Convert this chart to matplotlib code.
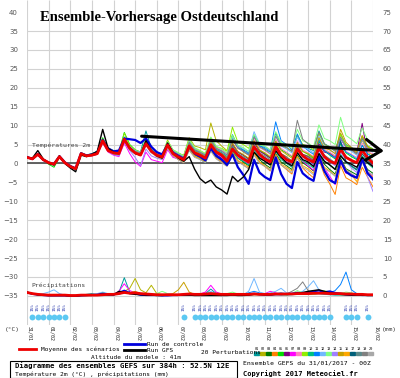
import numpy as np
import matplotlib.pyplot as plt
from matplotlib.lines import Line2D
from matplotlib.patches import Rectangle

W, H = 400, 378

# ---- data -------------------------------------------------------------
lead_hours = np.arange(0, 385, 6)
date_labels = ["31/01", "01/02", "02/02", "03/02", "04/02", "05/02", "06/02", "07/02", "08/02",
               "09/02", "10/02", "11/02", "12/02", "13/02", "14/02", "15/02", "16/02"]
left_ticks = list(range(-35, 45, 5))
right_ticks = list(range(0, 80, 5))
PRECIP_OFFSET = -35  # 0 mm of the right scale sits at -35 on the temperature scale

mean_t = [1.6, 1.2, 2.4, 1.0, 0.2, -0.2, 1.8, 0.2, -0.8, -1.4, 2.6, 2.0, 2.2, 2.6, 6.0, 3.4,
          2.8, 2.6, 6.4, 4.0, 2.8, 2.2, 5.2, 3.2, 2.2, 1.7, 4.9, 2.6, 1.7, 1.0, 4.6, 2.8,
          2.2, 1.4, 4.9, 3.0, 2.2, 0.6, 3.8, 2.2, 1.2, 0.4, 4.4, 2.4, 1.2, 0.4, 4.4, 2.2,
          1.0, 0.4, 3.8, 2.0, 1.0, 0.4, 4.1, 1.8, 0.6, 0.0, 3.8, 1.6, 0.8, 0.2, 3.6, 1.4,
          0.1]
control_t = [1.7, 1.2, 2.5, 1.0, 0.2, -0.2, 1.9, 0.3, -0.7, -1.3, 2.7, 2.1, 2.4, 3.0, 6.2, 4.0,
             3.2, 3.4, 6.6, 6.4, 6.2, 5.4, 6.6, 4.4, 3.0, 2.4, 5.0, 2.8, 2.0, 1.2, 4.4, 2.6,
             1.8, 0.8, 4.0, 2.0, 1.0, -0.4, 2.4, -1.0, -3.0, -5.4, 1.0, -2.4, -3.6, -4.4, 1.6, -2.8,
             -5.4, -6.5, 0.4, -2.6, -3.8, -4.6, 1.8, -2.0, -4.4, -5.2, 0.8, -2.2, -3.2, -3.8, 1.2, -2.6,
             -4.2]
gfs_t = [1.6, 1.4, 3.4, 1.2, 0.0, -0.4, 2.0, 0.0, -1.2, -2.2, 2.2, 1.8, 2.4, 3.2, 9.0, 4.0,
         3.0, 2.6, 6.4, 4.2, 2.6, 2.2, 6.0, 3.4, 2.0, 1.4, 5.4, 2.8, 1.4, 0.6, 1.8, -1.5,
         -4.0, -5.2, -4.4, -6.2, -7.0, -8.1, -3.4, -4.8, -3.6, -1.6, 3.0, 1.4, 0.6, -0.4, 3.4, 1.6,
         0.2, -0.6, 2.8, 1.0, 0.4, -0.8, 2.6, 0.6, -0.4, -1.6, 2.0, 0.4, -0.2, -1.0, 1.6, 0.2,
         -0.8]

pert_01 = [1.8, 1.3, 2.6, 1.1, 0.4, 0.0, 2.0, 0.4, -0.6, -1.2, 2.8, 2.2, 2.4, 2.8, 6.4, 3.6,
           2.8, 2.6, 7.0, 4.4, 3.4, 3.0, 8.6, 4.0, 2.6, 2.0, 5.6, 3.0, 2.2, 1.2, 5.2, 3.4,
           2.8, 2.0, 6.4, 4.0, 3.4, 2.6, 7.6, 4.6, 3.6, 2.8, 7.4, 4.8, 3.8, 3.0, 8.0, 5.0,
           4.2, 3.2, 7.2, 4.8, 4.0, 3.4, 8.6, 5.2, 4.4, 3.6, 7.8, 5.0, 4.2, 3.4, 7.0, 4.6,
           3.8]
pert_02 = [1.5, 1.1, 2.3, 0.9, 0.1, -0.3, 1.7, 0.1, -0.9, -1.5, 2.4, 1.8, 2.0, 2.4, 5.6, 3.2,
           2.4, 2.2, 6.0, 3.8, 2.8, 2.4, 5.8, 3.6, 2.4, 1.8, 6.2, 3.2, 2.6, 2.2, 6.8, 4.6,
           4.2, 3.6, 10.7, 6.0, 4.6, 3.4, 7.2, 4.4, 3.0, 2.2, 6.0, 3.6, 2.4, 1.4, 5.4, 2.6,
           1.8, 0.6, 5.0, 2.4, 2.0, 1.2, 6.4, 3.4, 2.8, 2.0, 8.0, 4.6, 3.6, 2.4, 6.2, 3.0,
           2.2]
pert_03 = [1.7, 1.2, 2.5, 1.0, 0.2, -0.1, 1.9, 0.3, -0.7, -1.3, 2.7, 2.1, 2.3, 2.7, 6.2, 3.6,
           2.8, 2.5, 6.6, 4.2, 3.2, 2.7, 5.6, 3.4, 2.2, 1.6, 4.6, 2.4, 1.4, 0.6, 4.0, 2.2,
           1.6, 0.8, 4.2, 2.4, 1.4, 0.2, 3.2, 1.4, 0.4, -0.6, 3.0, 1.0, -0.2, -1.2, 2.6, 0.4,
           -0.6, -1.6, 2.2, 0.2, -0.8, -2.0, 2.4, -0.2, -1.6, -2.8, 1.4, -1.4, -2.2, -3.0, 1.0, -1.6,
           -2.6]
pert_04 = [1.6, 1.2, 2.4, 1.0, 0.2, -0.2, 1.8, 0.2, -0.8, -1.4, 2.5, 1.9, 2.1, 2.5, 5.6, 3.2,
           2.4, 2.2, 6.2, 3.8, 2.8, 2.4, 5.0, 3.0, 1.8, 1.2, 4.2, 2.0, 1.0, 0.2, 3.6, 1.8,
           1.4, 0.4, 3.8, 1.6, 0.6, -0.6, 2.6, 0.6, -0.4, -1.4, 2.8, 0.4, -0.8, -2.0, 2.4, -0.4,
           -1.6, -2.8, 1.8, -1.2, -2.6, -3.8, 1.0, -3.0, -5.4, -8.2, -0.6, -3.8, -4.6, -5.6, -1.0, -3.6,
           -6.2]
pert_05 = [1.7, 1.3, 2.5, 0.9, -0.2, -1.0, 1.6, 0.0, -1.0, -1.6, 2.8, 2.2, 2.6, 3.2, 6.8, 4.0,
           3.4, 3.0, 8.2, 5.0, 3.6, 3.0, 6.2, 3.8, 2.8, 2.2, 5.4, 3.2, 2.4, 1.6, 5.6, 3.6,
           3.0, 2.2, 6.0, 3.8, 2.8, 1.8, 5.2, 3.0, 2.2, 1.2, 5.8, 3.4, 2.6, 1.6, 6.0, 3.6,
           2.8, 1.8, 5.6, 3.2, 2.4, 1.4, 5.8, 3.4, 2.2, 1.2, 5.2, 2.8, 1.8, 1.0, 4.8, 2.6,
           1.6]
pert_06 = [1.6, 1.1, 2.3, 0.9, 0.1, -0.3, 1.8, 0.2, -0.8, -1.4, 2.6, 2.0, 2.2, 2.6, 6.0, 3.4,
           2.6, 2.4, 6.2, 4.0, 3.0, 2.6, 5.2, 3.2, 2.0, 1.4, 4.6, 2.6, 1.8, 1.0, 4.8, 3.0,
           2.4, 1.6, 5.4, 3.4, 2.6, 1.4, 5.0, 3.0, 2.2, 1.2, 5.6, 3.2, 2.4, 1.4, 4.8, 2.6,
           1.6, 0.6, 4.4, 2.4, 1.8, 0.8, 5.2, 3.0, 2.6, 1.6, 6.6, 4.2, 3.6, 2.8, 10.6, 2.0,
           -1.0]
pert_07 = [1.5, 1.0, 2.2, 0.8, 0.0, -0.4, 1.6, 0.0, -1.0, -1.6, 2.4, 1.8, 2.0, 2.4, 5.4, 3.0,
           2.2, 1.8, 5.4, 2.6, 0.4, -0.8, 3.0, 1.0, 0.6, 0.2, 3.6, 1.6, 1.2, 0.4, 4.2, 2.4,
           1.8, 1.0, 4.4, 2.6, 1.6, 0.4, 3.6, 1.6, 0.8, -0.2, 4.0, 1.8, 1.0, 0.0, 4.2, 1.6,
           0.4, -0.8, 3.0, 0.6, -0.6, -1.8, 2.2, -1.2, -3.4, -5.6, 0.4, -2.6, -2.8, -3.6, 1.2, -2.2,
           -3.4]
pert_08 = [1.6, 1.2, 2.4, 1.0, 0.3, 0.0, 2.0, 0.4, -0.6, -1.2, 2.6, 2.0, 2.2, 2.6, 5.8, 3.4,
           2.6, 2.4, 6.4, 4.0, 3.0, 2.6, 5.6, 3.6, 2.6, 2.0, 5.4, 3.2, 2.4, 1.6, 5.8, 3.8,
           3.2, 2.4, 6.6, 4.2, 3.6, 2.6, 6.2, 4.0, 3.2, 2.2, 6.8, 4.2, 3.4, 2.4, 6.4, 4.0,
           3.0, 2.0, 6.0, 3.6, 2.8, 1.8, 6.6, 3.8, 3.0, 2.0, 5.8, 3.2, 2.4, 1.6, 5.4, 3.0,
           2.6]
pert_09 = [1.6, 1.2, 2.6, 1.0, 0.2, -0.2, 1.8, 0.2, -0.8, -1.4, 2.6, 2.0, 2.2, 2.8, 6.2, 3.6,
           3.0, 2.8, 8.0, 4.8, 3.6, 3.0, 6.4, 4.0, 3.0, 2.4, 6.0, 3.6, 2.8, 2.0, 6.2, 4.0,
           3.4, 2.6, 6.8, 4.4, 4.0, 3.2, 9.6, 5.6, 5.0, 4.0, 7.6, 5.0, 4.4, 3.4, 7.4, 4.8,
           4.2, 3.2, 7.6, 5.0, 4.6, 3.6, 7.8, 5.0, 4.4, 3.4, 7.6, 4.8, 4.0, 3.0, 7.2, 4.6,
           3.8]
pert_10 = [1.7, 1.3, 2.5, 1.1, 0.2, -0.2, 1.8, 0.3, -0.7, -1.3, 2.7, 2.1, 2.3, 2.7, 6.0, 3.5,
           2.7, 2.5, 6.4, 4.0, 3.0, 2.6, 5.2, 3.2, 2.0, 1.4, 4.4, 2.2, 1.2, 0.4, 3.8, 2.0,
           1.2, 0.2, 3.6, 1.8, 1.0, -0.2, 3.4, 1.4, 0.6, -0.4, 3.6, 1.6, 0.6, -0.4, 3.2, 1.0,
           0.0, -1.0, 3.0, 0.8, -0.2, -1.2, 2.8, 0.6, -0.4, -1.4, 2.4, 0.2, -0.8, -1.8, 2.0, 0.0,
           -1.2]
pert_11 = [1.6, 1.2, 2.4, 1.0, 0.2, -0.2, 1.8, 0.2, -0.8, -1.4, 2.6, 2.0, 2.2, 2.6, 6.0, 3.4,
           2.8, 2.6, 6.6, 4.2, 3.2, 2.8, 5.8, 3.6, 2.6, 2.0, 5.2, 3.0, 2.2, 1.4, 5.4, 3.4,
           2.8, 2.0, 6.0, 3.6, 2.8, 1.8, 6.6, 4.2, 3.4, 2.4, 7.4, 4.6, 4.2, 3.2, 11.0, 6.0,
           5.0, 3.6, 7.8, 4.6, 3.4, 2.4, 6.2, 3.4, 2.4, 1.4, 5.6, 3.0, 2.2, 1.2, 4.8, 2.4,
           1.8]
pert_12 = [1.7, 1.2, 2.5, 1.0, 0.3, -0.1, 1.9, 0.3, -0.7, -1.3, 2.7, 2.1, 2.3, 2.7, 6.2, 3.6,
           2.8, 2.6, 6.8, 4.4, 3.4, 3.0, 6.0, 3.8, 2.8, 2.2, 5.6, 3.4, 2.6, 1.8, 5.8, 3.8,
           3.0, 2.2, 6.2, 4.0, 3.2, 2.2, 7.0, 4.4, 4.0, 3.0, 8.4, 5.2, 4.4, 3.4, 7.4, 4.6,
           3.8, 2.8, 7.0, 4.2, 3.8, 2.8, 7.2, 4.4, 3.6, 2.6, 6.8, 4.2, 3.2, 2.2, 6.4, 3.8,
           3.0]
pert_13 = [1.6, 1.2, 2.4, 1.0, 0.2, -0.2, 1.8, 0.2, -0.8, -1.4, 2.6, 2.0, 2.2, 2.6, 6.0, 3.4,
           2.6, 2.4, 6.6, 4.2, 3.2, 2.8, 5.8, 3.6, 2.8, 2.2, 5.8, 3.6, 2.8, 2.0, 6.4, 4.2,
           3.4, 2.6, 7.0, 4.6, 3.8, 2.8, 7.4, 4.8, 4.2, 3.2, 7.6, 5.0, 4.6, 3.6, 8.4, 5.6,
           5.0, 4.0, 9.0, 6.0, 5.4, 4.4, 10.2, 6.6, 6.0, 5.0, 12.2, 7.4, 6.4, 5.2, 9.4, 6.2,
           5.6]
pert_14 = [1.5, 1.1, 2.3, 0.9, 0.1, -0.3, 1.7, 0.1, -0.9, -1.5, 2.5, 1.9, 2.1, 2.5, 5.6, 3.2,
           2.4, 2.0, 5.8, 3.4, 1.6, -0.6, 3.8, 2.0, 1.4, 1.0, 4.2, 2.2, 1.6, 0.8, 4.4, 2.6,
           2.0, 1.2, 4.6, 2.8, 2.0, 1.0, 4.4, 2.4, 1.6, 0.6, 4.6, 2.4, 1.4, 0.4, 4.0, 2.0,
           1.0, 0.0, 3.8, 1.6, 0.6, -0.4, 3.4, 1.2, 0.4, -0.6, 3.0, 0.8, -1.2, -2.4, 1.6, -3.6,
           -7.4]
pert_15 = [1.6, 1.2, 2.4, 1.0, 0.2, -0.2, 1.8, 0.2, -0.8, -1.4, 2.6, 2.0, 2.2, 2.6, 5.8, 3.4,
           2.6, 2.4, 6.2, 4.0, 3.0, 2.6, 5.4, 3.4, 2.4, 1.8, 5.2, 3.0, 2.2, 1.4, 5.0, 3.2,
           2.6, 1.8, 5.6, 3.4, 2.6, 1.6, 5.4, 3.2, 2.4, 1.4, 6.0, 3.6, 2.8, 1.8, 5.8, 3.4,
           2.4, 1.4, 5.4, 3.2, 2.6, 1.6, 6.8, 4.0, 3.6, 2.6, 9.0, 5.6, 4.2, 3.0, 7.4, 4.4,
           3.4]
pert_16 = [1.7, 1.3, 2.5, 1.1, 0.3, -0.1, 1.9, 0.3, -0.7, -1.3, 2.7, 2.1, 2.3, 2.7, 6.0, 3.4,
           2.6, 2.4, 6.2, 3.8, 2.8, 2.4, 5.0, 3.0, 1.8, 1.2, 4.2, 2.2, 1.2, 0.4, 3.8, 2.0,
           1.2, 0.4, 3.4, 1.4, 0.4, -0.6, 2.8, 0.8, 0.0, -1.0, 2.6, 0.4, -0.6, -1.6, 2.0, -0.2,
           -1.0, -2.0, 1.8, -0.6, -1.4, -2.6, 1.4, -1.0, -2.0, -3.2, 1.0, -1.6, -3.0, -4.8, 0.6, -2.4,
           -3.6]
pert_17 = [1.6, 1.2, 2.4, 1.0, 0.2, -0.2, 1.8, 0.2, -0.8, -1.4, 2.6, 2.0, 2.2, 2.6, 5.8, 3.4,
           2.6, 2.4, 6.2, 3.8, 2.8, 2.4, 5.2, 3.2, 2.2, 1.6, 4.8, 2.6, 1.8, 1.0, 4.6, 2.8,
           2.2, 1.4, 4.8, 2.8, 2.0, 1.0, 4.2, 2.2, 1.4, 0.4, 4.6, 2.4, 1.6, 0.6, 4.4, 2.2,
           1.2, 0.2, 4.0, 2.0, 1.2, 0.2, 4.6, 2.0, 1.0, 0.0, 6.0, 0.4, -0.6, -1.6, 2.6, 0.6,
           -0.2]
pert_18 = [1.5, 1.1, 2.3, 0.9, 0.1, -0.3, 1.7, 0.1, -0.9, -1.5, 2.5, 1.9, 2.1, 2.5, 5.8, 3.4,
           2.6, 2.4, 6.0, 3.6, 2.6, 2.2, 5.0, 3.0, 2.0, 1.4, 4.4, 2.4, 1.6, 0.8, 4.2, 2.6,
           2.0, 1.2, 4.8, 3.0, 2.4, 1.4, 4.6, 2.6, 1.8, 0.8, 4.8, 2.8, 2.0, 1.0, 4.6, 2.4,
           1.6, 0.6, 4.2, 2.2, 1.6, 0.6, 4.4, 2.2, 1.2, 0.2, 4.0, 1.8, 1.0, 0.0, 3.6, 1.4,
           0.8]
pert_19 = [1.6, 1.2, 2.4, 1.0, 0.2, -0.2, 1.8, 0.2, -0.8, -1.4, 2.6, 2.0, 2.2, 2.6, 6.2, 3.6,
           2.8, 2.6, 6.6, 4.2, 3.2, 2.8, 5.8, 3.6, 2.6, 2.0, 5.4, 3.2, 2.4, 1.6, 5.6, 3.6,
           3.0, 2.2, 6.2, 4.0, 3.2, 2.2, 6.4, 4.0, 3.2, 2.2, 7.0, 4.4, 3.6, 2.6, 7.2, 4.6,
           4.2, 3.2, 11.4, 6.4, 5.2, 4.0, 8.2, 5.2, 4.2, 3.2, 7.0, 4.4, 3.6, 2.6, 6.6, 4.0,
           3.4]
pert_20 = [1.7, 1.2, 2.5, 1.0, 0.2, -0.2, 1.8, 0.2, -0.8, -1.4, 2.6, 2.0, 2.2, 2.6, 5.8, 3.4,
           2.6, 2.4, 6.0, 3.6, 2.6, 2.2, 4.8, 2.8, 1.8, 1.2, 4.0, 2.0, 1.0, 0.2, 3.4, 1.6,
           1.0, 0.2, 3.2, 1.2, 0.2, -0.8, 2.4, 0.4, -0.4, -1.4, 2.2, 0.0, -0.8, -1.8, 1.8, -0.4,
           -1.4, -2.4, 1.4, -1.0, -1.8, -3.0, 1.0, -1.4, -2.2, -3.4, 0.6, -1.8, -2.6, -3.8, 0.2, -2.2,
           -3.0]
members_t = [pert_01, pert_02, pert_03, pert_04, pert_05, pert_06, pert_07, pert_08, pert_09, pert_10,
             pert_11, pert_12, pert_13, pert_14, pert_15, pert_16, pert_17, pert_18, pert_19, pert_20]
member_colors = ["#009a9a", "#b4b400", "#007a00", "#ff8000", "#00dd00", "#800080", "#ff00ff", "#ff80c0",
                 "#90ee00", "#00c080", "#0080ff", "#70b8ff", "#80ff80", "#a080ff", "#c8a000", "#ffa800",
                 "#00607a", "#5a8a8a", "#808080", "#a8a8a8"]

# precipitation (mm, 6-hourly)
mean_p = [0.9, 0.6, 0.4, 0.3, 0.2, 0.2, 0.2, 0.2, 0.1, 0.1, 0.2, 0.2, 0.2, 0.2, 0.3, 0.4,
          0.4, 0.6, 0.9, 0.7, 0.8, 0.6, 0.5, 0.4, 0.3, 0.3, 0.3, 0.3, 0.3, 0.4, 0.5, 0.4,
          0.4, 0.5, 0.6, 0.5, 0.4, 0.4, 0.4, 0.4, 0.4, 0.4, 0.5, 0.4, 0.4, 0.4, 0.5, 0.5,
          0.5, 0.5, 0.6, 0.6, 0.6, 0.7, 0.7, 0.7, 0.6, 0.6, 0.6, 0.5, 0.5, 0.4, 0.4, 0.3,
          0.3]
control_p = [0.9, 0.5, 0.3, 0.2, 0.1, 0.1, 0.1, 0.1, 0.0, 0.0, 0.1, 0.2, 0.2, 0.3, 0.6, 0.4,
             0.3, 0.8, 1.4, 0.8, 0.6, 0.3, 0.2, 0.2, 0.2, 0.1, 0.1, 0.2, 0.2, 0.3, 0.4, 0.3,
             0.3, 0.4, 0.6, 0.3, 0.2, 0.3, 0.4, 0.3, 0.3, 0.4, 0.6, 0.4, 0.3, 0.3, 0.4, 0.4,
             0.5, 0.6, 0.8, 0.7, 0.9, 1.2, 1.4, 1.0, 1.2, 0.8, 0.6, 0.4, 0.3, 0.3, 0.2, 0.2,
             0.2]
gfs_p = [1.0, 0.6, 0.3, 0.2, 0.1, 0.1, 0.1, 0.1, 0.0, 0.0, 0.1, 0.1, 0.2, 0.3, 0.4, 0.3,
         0.3, 1.2, 1.0, 0.6, 0.4, 0.3, 0.2, 0.2, 0.1, 0.1, 0.2, 0.2, 0.2, 0.2, 0.2, 0.1,
         0.1, 0.1, 0.1, 0.1, 0.1, 0.1, 0.2, 0.1, 0.1, 0.2, 0.4, 0.4, 0.3, 0.3, 0.5, 0.6,
         0.4, 0.5, 0.7, 0.9, 1.2, 1.4, 1.6, 1.2, 0.8, 0.5, 0.4, 0.3, 0.2, 0.2, 0.2, 0.1,
         0.1]
precip_01 = [0.8, 0.5, 0.3, 0.2, 0.1, 0.2, 0.2, 0.1, 0.0, 0.0, 0.2, 0.4, 0.6, 0.4, 0.3, 0.2,
             0.2, 0.9, 4.8, 1.0, 0.6, 0.3, 0.2, 0.1, 0.1, 0.1, 0.2, 0.2, 0.1, 0.2, 0.3, 0.2,
             0.3, 0.6, 1.8, 0.6, 0.3, 0.2, 0.2, 0.1, 0.1, 0.3, 0.6, 0.4, 0.3, 0.2, 0.4, 0.3,
             0.2, 0.3, 0.4, 0.6, 0.8, 1.0, 0.6, 0.4, 0.3, 0.2, 0.2, 0.2, 0.1, 0.1, 0.1, 0.1,
             0.1]
precip_02 = [0.8, 0.5, 0.3, 0.2, 0.1, 0.1, 0.1, 0.1, 0.0, 0.0, 0.1, 0.2, 0.2, 0.3, 0.6, 0.4,
             0.4, 0.6, 1.2, 2.0, 4.6, 1.6, 0.8, 2.8, 0.6, 0.3, 0.2, 0.1, 0.1, 0.1, 0.2, 0.2,
             0.2, 0.3, 0.4, 0.3, 0.2, 0.2, 0.3, 0.2, 0.2, 0.2, 0.3, 0.3, 0.2, 0.2, 0.3, 0.3,
             0.4, 0.5, 0.8, 0.6, 0.4, 0.4, 0.6, 0.9, 0.6, 0.4, 0.3, 0.3, 0.2, 0.2, 0.1, 0.1,
             0.1]
precip_07 = [0.9, 0.6, 0.3, 0.2, 0.1, 0.1, 0.1, 0.1, 0.0, 0.0, 0.1, 0.2, 0.2, 0.3, 0.5, 0.4,
             0.4, 1.2, 3.2, 1.4, 0.8, 0.4, 0.2, 0.2, 0.1, 0.2, 0.6, 0.4, 0.2, 0.2, 0.3, 0.4,
             0.5, 1.0, 2.8, 1.0, 0.5, 0.3, 0.3, 0.2, 0.2, 0.2, 0.4, 0.4, 0.6, 1.2, 0.8, 0.4,
             0.4, 0.6, 1.0, 0.8, 0.7, 0.6, 0.8, 0.6, 0.5, 0.4, 0.4, 0.3, 0.3, 0.2, 0.2, 0.2,
             0.2]
precip_11 = [0.9, 0.5, 0.3, 0.2, 0.1, 0.1, 0.1, 0.1, 0.0, 0.0, 0.1, 0.2, 0.3, 0.2, 0.3, 0.2,
             0.3, 0.5, 0.8, 0.6, 0.4, 0.3, 0.2, 0.2, 0.1, 0.2, 0.2, 0.2, 0.2, 0.3, 0.2, 0.2,
             0.2, 0.3, 0.5, 0.3, 0.2, 0.2, 0.3, 0.3, 0.4, 0.8, 1.2, 0.8, 0.5, 0.4, 0.6, 0.8,
             0.6, 0.5, 0.6, 0.6, 0.5, 0.5, 0.6, 0.6, 0.8, 1.4, 3.0, 6.3, 1.6, 0.6, 0.3, 0.2,
             0.2]
precip_12 = [0.9, 0.6, 0.4, 0.6, 1.0, 1.6, 0.6, 0.2, 0.1, 0.1, 0.2, 0.3, 0.4, 0.6, 1.0, 0.6,
             0.4, 0.5, 1.0, 0.6, 0.4, 0.3, 0.2, 0.2, 0.2, 0.2, 0.2, 0.2, 0.3, 0.4, 0.3, 0.2,
             0.3, 0.6, 1.2, 0.6, 0.4, 0.3, 0.3, 0.2, 0.3, 1.2, 4.6, 1.0, 0.6, 0.8, 1.2, 2.0,
             0.8, 0.6, 0.8, 1.2, 2.4, 4.0, 1.6, 0.8, 0.6, 0.4, 0.4, 0.3, 0.2, 0.2, 0.2, 0.2,
             0.2]
precip_13 = [0.8, 0.5, 0.3, 0.2, 0.1, 0.1, 0.1, 0.1, 0.0, 0.0, 0.1, 0.2, 0.2, 0.3, 0.8, 0.4,
             0.3, 0.5, 1.0, 0.8, 0.6, 0.4, 0.3, 0.3, 0.6, 1.2, 0.6, 0.3, 0.2, 0.2, 0.3, 0.3,
             0.3, 0.5, 0.8, 0.5, 0.4, 0.6, 1.0, 0.5, 0.3, 0.3, 0.4, 0.4, 0.3, 0.4, 0.6, 0.5,
             0.4, 0.6, 1.4, 0.8, 0.6, 0.5, 0.8, 1.4, 0.8, 0.5, 0.6, 1.0, 0.8, 0.4, 0.3, 0.2,
             0.2]
precip_15 = [0.8, 0.5, 0.3, 0.2, 0.1, 0.1, 0.1, 0.1, 0.0, 0.0, 0.1, 0.2, 0.2, 0.3, 0.5, 0.3,
             0.3, 0.5, 1.0, 0.8, 1.2, 0.6, 0.4, 0.3, 0.2, 0.2, 0.3, 0.6, 1.6, 3.6, 1.0, 0.4,
             0.3, 0.4, 0.6, 0.4, 0.3, 0.3, 0.3, 0.2, 0.2, 0.3, 0.4, 0.3, 0.3, 0.3, 0.4, 0.3,
             0.3, 0.4, 0.5, 0.5, 0.5, 0.5, 0.7, 0.8, 1.0, 0.6, 0.5, 0.4, 0.3, 0.3, 0.2, 0.2,
             0.2]
precip_19 = [0.8, 0.5, 0.3, 0.2, 0.1, 0.1, 0.1, 0.1, 0.0, 0.0, 0.1, 0.2, 0.2, 0.3, 0.4, 0.3,
             0.3, 0.5, 0.8, 0.6, 0.4, 0.3, 0.2, 0.2, 0.2, 0.2, 0.2, 0.2, 0.2, 0.3, 0.3, 0.3,
             0.3, 0.4, 0.5, 0.4, 0.3, 0.3, 0.4, 0.3, 0.3, 0.3, 0.4, 0.3, 0.3, 0.4, 0.5, 0.4,
             0.5, 1.2, 2.0, 3.7, 1.4, 0.8, 0.6, 0.6, 0.5, 0.4, 0.4, 0.3, 0.2, 0.2, 0.2, 0.2,
             0.2]
members_p = {1: precip_01, 2: precip_02, 7: precip_07, 11: precip_11, 12: precip_12,
             13: precip_13, 15: precip_15, 19: precip_19}

# precipitation-type icons (6-hourly step index) and their probability labels
icon_steps = [1, 2, 3, 4, 5, 6, 7, 29] + list(range(31, 57)) + [59, 60, 61, 63]
icon_labels = ["15%"] * len(icon_steps)

# hand-drawn trend arrow (day, degC)
trend_start = (5.3, 7.2)
trend_end = (16.5, 3.3)

# ---- figure -----------------------------------------------------------
def px(x, y):
    return x / W, 1 - y / H

MONO = "DejaVu Sans Mono"
YLIM = (-42.7, 43.2)
days = lead_hours / 24

fig = plt.figure(figsize=(W / 100, H / 100), dpi=100)
ax = fig.add_axes([27 / W, 1 - 325 / H, 346 / W, 325 / H])
ax.set_xlim(0, 16)
ax.set_ylim(*YLIM)
for s in ax.spines.values():
    s.set_visible(False)

ax.vlines(range(17), YLIM[0], YLIM[1], color="#d2d2d2", lw=0.8, zorder=0)
ax.hlines(range(-35, 40, 5), 0, 16, color="#d2d2d2", lw=0.8, zorder=0)
ax.axhline(0, color="#555555", lw=1.3, zorder=1)

ax.set_xticks([])
ax.set_yticks(left_ticks)
ax.tick_params(axis="y", length=0, pad=6.5, labelsize=5, labelcolor="#555555")

ax2 = ax.twinx()
ax2.set_ylim(YLIM[0] - PRECIP_OFFSET, YLIM[1] - PRECIP_OFFSET)
ax2.set_yticks(right_ticks)
ax2.tick_params(axis="y", length=0, pad=7, labelsize=5, labelcolor="#555555")
for s in ax2.spines.values():
    s.set_visible(False)

# temperatures
for color, series in zip(member_colors, members_t):
    ax.plot(days, series, color=color, lw=0.7, zorder=2)
ax.plot(days, control_t, color="#0000dd", lw=1.6, zorder=3)
ax.plot(days, gfs_t, color="black", lw=1.0, zorder=3)
ax.plot(days, mean_t, color="#ee0000", lw=2.0, zorder=4)

# precipitation
for k, series in members_p.items():
    ax.plot(days, np.array(series) + PRECIP_OFFSET, color=member_colors[k - 1], lw=0.7, zorder=2)
ax.plot(days, np.array(control_p) + PRECIP_OFFSET, color="#0000dd", lw=1.4, zorder=3)
ax.plot(days, np.array(gfs_p) + PRECIP_OFFSET, color="black", lw=1.0, zorder=3)
ax.plot(days, np.array(mean_p) + PRECIP_OFFSET, color="#ee0000", lw=2.0, zorder=4)

ax.text(0.22, 4.9, "Températures 2m", fontsize=4.6, family=MONO, color="#444444", va="center")
ax.text(0.22, -32.1, "Précipitations", fontsize=4.6, family=MONO, color="#444444", va="center")

# precipitation type icons
icon_x = days[icon_steps]
ax.scatter(icon_x, np.full(len(icon_x), -40.5), s=18, color="#5cc8f2", marker="o", lw=0, zorder=5)
for x, lab in zip(icon_x, icon_labels):
    ax.text(x, -38.0, lab, fontsize=3.2, color="#2233aa", rotation=90, ha="center", va="center",
            family=MONO)

# date labels
for k, lab in enumerate(date_labels):
    ax.text(k + 0.14, YLIM[0] - 0.2, lab, rotation=270, ha="center", va="top", fontsize=3.6,
            family=MONO, color="#222222", clip_on=False)

# trend arrow
ax.annotate("", xy=trend_end, xytext=trend_start, annotation_clip=False,
            arrowprops=dict(arrowstyle="->,head_length=1.1,head_width=0.75", lw=2.2,
                            color="black", shrinkA=0, shrinkB=0), zorder=6)

# title
fig.text(*px(40, 17), "Ensemble-Vorhersage Ostdeutschland", fontsize=10.5, fontweight="bold",
         family="Liberation Serif", va="center", ha="left")

fig.text(*px(12, 329), "(°C)", fontsize=4.5, family=MONO, ha="center", va="center", color="#333333")
fig.text(*px(389, 329), "(mm)", fontsize=4.5, family=MONO, ha="center", va="center", color="#333333")

# legend
def fig_line(x1, x2, y, color, lw):
    fig.add_artist(Line2D([x1 / W, x2 / W], [1 - y / H, 1 - y / H], color=color, lw=lw,
                          transform=fig.transFigure))

fig_line(19, 36, 349, "#ee0000", 2.0)
fig.text(*px(41, 349), "Moyenne des scénarios", fontsize=4.4, family=MONO, va="center")
fig_line(124, 145, 344, "#0000dd", 2.0)
fig.text(*px(147, 344.5), "Run de controle", fontsize=4.4, family=MONO, va="center")
fig_line(124, 145, 350, "black", 2.0)
fig.text(*px(147, 350), "Run GFS", fontsize=4.4, family=MONO, va="center")
fig.text(*px(136, 357.5), "Altitude du modele : 41m", fontsize=4.4, family=MONO, va="center", ha="center")

fig.text(*px(201, 353), "20 Perturbations", fontsize=4.4, family=MONO, va="center")
for k, c in enumerate(member_colors):
    x0 = 254 + 6 * k
    fig.add_artist(Rectangle(px(x0, 355), 5 / W, 3 / H, color=c, transform=fig.transFigure))
    fig.text(*px(x0 + 2.5, 348.5), f"{k + 1:02d}", fontsize=2.6, family=MONO, ha="center", va="center")

fig.add_artist(Rectangle(px(10, 377.5), 227 / W, 16.5 / H, fill=False, edgecolor="black", lw=0.8,
                         transform=fig.transFigure))
fig.text(*px(15, 366), "Diagramme des ensembles GEFS sur 384h : 52.5N 12E", fontsize=5.2,
         fontweight="bold", family=MONO, va="center")
fig.text(*px(15, 374), "Température 2m (°C) , précipitations (mm)", fontsize=4.5, family=MONO,
         va="center")
fig.text(*px(243, 363), "Ensemble GEFS du 31/01/2017 - 00Z", fontsize=4.6, family=MONO, va="center")
fig.text(*px(243, 374), "Copyright 2017 Meteociel.fr", fontsize=5.0, fontweight="bold", family=MONO,
         va="center")

fig.savefig("out.png", dpi=100)
